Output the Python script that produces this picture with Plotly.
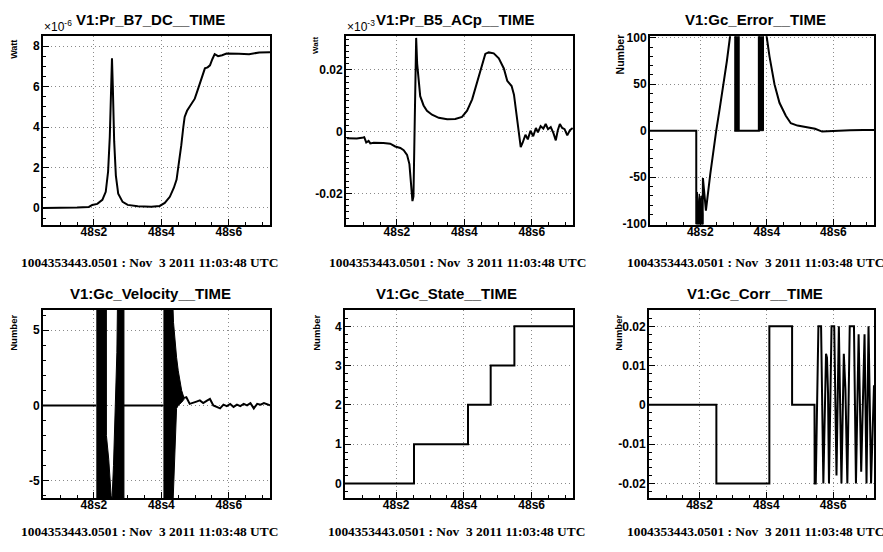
import plotly.graph_objects as go

W, H = 883, 552

# time axis: seconds of 11:03:xx, first sample at 48.0501
t_range = [48.049, 48.722]
x_tickvals = [48.2, 48.4, 48.6]
x_ticktext = ["48s2", "48s4", "48s6"]

titles = ["V1:Pr_B7_DC__TIME", "V1:Pr_B5_ACp__TIME", "V1:Gc_Error__TIME",
          "V1:Gc_Velocity__TIME", "V1:Gc_State__TIME", "V1:Gc_Corr__TIME"]
y_titles = ["Watt", "Watt", "Number", "Number", "Number", "Number"]
exponents = ["-6", "-3", None, None, None, None]
date_label = "1004353443.0501 : Nov\u00a0 3 2011 11:03:48 UTC"

# V1:Pr_B7_DC  (units of 1e-6 W)
b7_t = [48.049, 48.100, 48.150, 48.185, 48.195, 48.210, 48.225, 48.235, 48.242, 48.247,
        48.251, 48.2535, 48.256, 48.260, 48.265, 48.272, 48.285, 48.300, 48.330, 48.370,
        48.395, 48.410, 48.425, 48.437, 48.445, 48.452, 48.459, 48.465, 48.469, 48.476,
        48.484, 48.499, 48.507, 48.514, 48.522, 48.529, 48.537, 48.544, 48.551, 48.558,
        48.563, 48.568, 48.580, 48.593, 48.630, 48.660, 48.690, 48.722]
b7_w = [0.0, 0.0, 0.02, 0.05, 0.15, 0.2, 0.4, 0.8, 1.8, 3.5,
        6.0, 7.4, 6.0, 3.3, 1.6, 0.7, 0.3, 0.15, 0.08, 0.06,
        0.1, 0.25, 0.55, 1.0, 1.4, 2.2, 3.1, 4.0, 4.5, 4.8,
        5.0, 5.4, 5.8, 6.15, 6.6, 6.9, 6.95, 7.05, 7.35, 7.6,
        7.55, 7.5, 7.55, 7.63, 7.62, 7.6, 7.68, 7.7]

# V1:Pr_B5_ACp  (units of 1e-3 W)
b5_t = [48.0515, 48.081, 48.096, 48.103, 48.109, 48.116, 48.121, 48.131, 48.160, 48.180,
        48.195, 48.210, 48.220, 48.230, 48.237, 48.242, 48.246, 48.249, 48.251, 48.254,
        48.257, 48.260, 48.264, 48.269, 48.279, 48.289, 48.304, 48.324, 48.349, 48.373,
        48.393, 48.408, 48.423, 48.438, 48.453, 48.462, 48.472, 48.487, 48.502, 48.517,
        48.527, 48.534, 48.540, 48.547, 48.554, 48.560, 48.567, 48.573, 48.581, 48.588,
        48.596, 48.604, 48.612, 48.618, 48.626, 48.634, 48.641, 48.648, 48.656, 48.664,
        48.671, 48.677, 48.683, 48.690, 48.697, 48.705, 48.713, 48.721]
b5_w = [-0.0021, -0.0022, -0.0020, -0.0018, -0.0035, -0.0030, -0.0038, -0.0036, -0.0037, -0.0039,
        -0.0048, -0.0053, -0.0060, -0.0075, -0.0105, -0.0160, -0.0225, -0.0210, -0.0050, 0.0180,
        0.0304, 0.0220, 0.0160, 0.0115, 0.0085, 0.0068, 0.0055, 0.0045, 0.0040, 0.0041,
        0.0048, 0.0068, 0.0105, 0.0165, 0.0225, 0.0252, 0.0257, 0.0254, 0.0238, 0.0205,
        0.0165, 0.0155, 0.0148, 0.0120, 0.0065, 0.0015, -0.0050, -0.0035, -0.0010, -0.0025,
        0.0003, -0.0015, 0.0012, -0.0002, 0.0018, 0.0010, 0.0025, 0.0008, 0.0015, -0.0005,
        -0.0028, 0.0005, 0.0025, 0.0012, 0.0008, -0.0012, 0.0005, 0.0012]

# V1:Gc_Error
err_t = [48.049, 48.188, 48.188, 48.207, 48.208, 48.217, 48.230, 48.238, 48.248, 48.259,
         48.270, 48.280, 48.289, 48.298, 48.305, 48.305, 48.317, 48.376, 48.376, 48.390,
         48.400, 48.408, 48.423, 48.438, 48.457, 48.472, 48.492, 48.520, 48.545, 48.566,
         48.585, 48.606, 48.650, 48.690, 48.722]
err_v = [0, 0, -100, -100, -51, -86, -47, -25, 0, 25,
         50, 75, 100, 125, 125, 0, 0, 0, 125, 125,
         100, 80, 50, 30, 16, 8, 5.5, 4, 2, -1,
         -0.5, 0, 0.5, 0.6, 0.7]
# envelopes of the fast oscillation (drawn as solid black)
err_osc1_t = [48.188, 48.191, 48.194, 48.197, 48.200, 48.203, 48.206, 48.208]
err_osc1_hi = [-72, -66, -80, -68, -75, -70, -82, -90]
err_osc1_lo = [-110, -110, -110, -110, -110, -110, -110, -110]
err_osc2_t = [48.305, 48.317]
err_osc2_hi = [130, 130]
err_osc2_lo = [0, 0]
err_osc3_t = [48.376, 48.390]
err_osc3_hi = [130, 130]
err_osc3_lo = [0, 0]

# V1:Gc_Velocity
vel_t = [48.049, 48.207, None, 48.289, 48.406, None,
         48.467, 48.474, 48.484, 48.494, 48.504, 48.514, 48.524, 48.534, 48.544, 48.554,
         48.564, 48.574, 48.584, 48.594, 48.604, 48.614, 48.624, 48.634, 48.644, 48.654,
         48.664, 48.674, 48.684, 48.694, 48.704, 48.714, 48.722]
vel_v = [0, 0, None, 0, 0, None,
         0.5, 0.54, 0.1, 0.15, 0.25, 0.33, 0.15, 0.3, 0.43, 0.0,
         -0.1, -0.2, 0.05, -0.05, 0.1, -0.1, 0.05, -0.05, 0.1, 0.0,
         0.15, -0.2, 0.1, 0.05, 0.15, 0.05, 0.0]
vel_osc1_t = [48.207, 48.2369, 48.237, 48.244, 48.251, 48.2535, 48.258, 48.263, 48.268, 48.2705, 48.289]
vel_osc1_hi = [8, 8, -2.0, -3.6, -6.0, -6.3, -4.0, -0.5, 3.5, 8, 8]
vel_osc1_lo = [-8, -8, -8, -8, -8, -8, -8, -8, -8, -8, -8]
vel_osc2_t = [48.406, 48.432, 48.436, 48.440, 48.445, 48.450, 48.455, 48.460, 48.467]
vel_osc2_hi = [8, 8, 5.5, 4.2, 3.2, 2.3, 1.6, 1.0, 0.5]
vel_osc2_lo = [-8, -8, -7, -3.5, -0.2, 0.0, 0.1, 0.2, 0.4]

# V1:Gc_State
state_t = [48.049, 48.2526, 48.412, 48.479, 48.549, 48.722]
state_v = [0, 1, 2, 3, 4, 4]

# V1:Gc_Corr
corr_t = [48.049, 48.2505, 48.2505, 48.409, 48.409, 48.477, 48.477, 48.544, 48.5445, 48.5478,
          48.5557, 48.5637, 48.5705, 48.5785, 48.5814, 48.5845, 48.5873, 48.595, 48.603, 48.6098,
          48.6169, 48.6246, 48.6317, 48.6365, 48.6423, 48.6494, 48.6621, 48.668, 48.676, 48.6837,
          48.6937, 48.6996, 48.7056, 48.7132, 48.722]
corr_v = [0, 0, -0.02, -0.02, 0.02, 0.02, 0, 0, -0.02, -0.02,
          0.02, 0.02, -0.02, 0.013, 0.012, 0.003, -0.02, 0.02, 0.02, -0.018,
          0.02, -0.02, 0.013, 0.004, -0.02, 0.02, 0.02, -0.02, 0.018, -0.017,
          0.018, -0.02, 0.02, -0.02, 0.005]

# y axes: range, major ticks, labels, minor step
y_ranges = [[-0.82, 8.48], [-0.0301, 0.0309], [-101, 101.5], [-6.15, 6.35], [-0.37, 4.42], [-0.0237, 0.0242]]
y_tickvals = [[0, 2, 4, 6, 8], [-0.02, 0, 0.02], [-100, -50, 0, 50, 100], [-5, 0, 5],
              [0, 1, 2, 3, 4], [-0.02, -0.01, 0, 0.01, 0.02]]
y_ticktext = [["0", "2", "4", "6", "8"], ["-0.02", "0", "0.02"], ["-100", "-50", "0", "50", "100"],
              ["-5", "0", "5"], ["0", "1", "2", "3", "4"], ["-0.02", "-0.01", "0", "0.01", "0.02"]]
y_minor = [0.5, 0.002, 10, 1, 0.2, 0.002]

# frame boxes in pixels: left, right, top, bottom
frames = [(43, 270, 32, 224), (346, 573, 32, 224), (650, 874, 32, 224),
          (43, 270, 311, 503), (345, 573, 311, 503), (649, 874, 311, 503)]
title_pos = [(150.5, 15), (455.5, 15), (755.5, 15), (150.5, 294.5), (447, 294.5), (755, 294.5)]
date_pos = [(149.5, 263), (457.5, 263), (755, 263), (149, 537), (456.7, 537), (755, 537)]
ytitle_pos = [(14, 33, 9), (316, 31, 8), (620, 28, 10.5), (14, 314, 9.5), (317, 314, 9.5), (619, 314, 9.5)]


def line(t, v, shape="linear"):
    return go.Scatter(x=t, y=v, mode="lines", line=dict(color="black", width=2, shape=shape),
                      hoverinfo="skip", showlegend=False)


def band(t, lo, hi):
    return go.Scatter(x=t + t[::-1], y=hi + lo[::-1], mode="lines", fill="toself",
                      fillcolor="black", line=dict(color="black", width=1),
                      hoverinfo="skip", showlegend=False)


traces = [
    [line(b7_t, b7_w)],
    [line(b5_t, b5_w)],
    [band(err_osc1_t, err_osc1_lo, err_osc1_hi), band(err_osc2_t, err_osc2_lo, err_osc2_hi),
     band(err_osc3_t, err_osc3_lo, err_osc3_hi), line(err_t, err_v)],
    [band(vel_osc1_t, vel_osc1_lo, vel_osc1_hi), band(vel_osc2_t, vel_osc2_lo, vel_osc2_hi),
     line(vel_t, vel_v)],
    [line(state_t, state_v, "hv")],
    [line(corr_t, corr_v)],
]

fig = go.Figure()
tick_font = dict(family="Liberation Sans", size=12, color="black", weight="bold")
grid = dict(showgrid=True, gridcolor="#8a8a8a", griddash="1px,3px", gridwidth=1)
annotations = []

for i in range(6):
    n = "" if i == 0 else str(i + 1)
    for tr in traces[i]:
        tr.update(xaxis="x" + n, yaxis="y" + n)
        fig.add_trace(tr)
    left, right, top, bottom = frames[i]
    fig.layout["xaxis" + n] = dict(
        domain=[left / W, right / W], anchor="y" + n, range=t_range,
        tickmode="array", tickvals=x_tickvals, ticktext=x_ticktext,
        ticks="inside", ticklen=6, tickwidth=1, tickcolor="black", ticklabelstandoff=-5,
        minor=dict(tickmode="linear", tick0=48.0, dtick=0.05, ticks="inside", ticklen=3, tickcolor="black"),
        showline=True, linecolor="black", linewidth=2, mirror=True,
        zeroline=False, tickfont=tick_font, fixedrange=True, **grid)
    fig.layout["yaxis" + n] = dict(
        domain=[1 - bottom / H, 1 - top / H], anchor="x" + n, range=y_ranges[i],
        tickmode="array", tickvals=y_tickvals[i], ticktext=y_ticktext[i],
        ticks="inside", ticklen=6, tickwidth=1, tickcolor="black", ticklabelstandoff=-1,
        minor=dict(tickmode="linear", tick0=0, dtick=y_minor[i], ticks="inside", ticklen=3, tickcolor="black"),
        showline=True, linecolor="black", linewidth=2, mirror=True,
        zeroline=False, tickfont=tick_font, fixedrange=True, **grid)

    tx, ty = title_pos[i]
    annotations.append(dict(text=titles[i], x=tx / W, y=1 - ty / H, xref="paper", yref="paper",
                            xanchor="center", yanchor="middle", showarrow=False,
                            font=dict(family="Liberation Sans", size=15, color="black", weight="bold")))
    dx, dy = date_pos[i]
    annotations.append(dict(text=date_label, x=dx / W, y=1 - dy / H, xref="paper", yref="paper",
                            xanchor="center", yanchor="middle", showarrow=False,
                            font=dict(family="Liberation Serif", size=13.4, color="black", weight="bold")))
    yx, yy, ys = ytitle_pos[i]
    annotations.append(dict(text=y_titles[i], x=yx / W, y=1 - yy / H, xref="paper", yref="paper",
                            xanchor="center", yanchor="top", textangle=-90, showarrow=False,
                            font=dict(family="Liberation Sans", size=ys, color="black", weight="bold")))
    if exponents[i]:
        annotations.append(dict(text="\u00d710<sup>" + exponents[i] + "</sup>", x=left / W, y=1 - (top - 1) / H,
                                xref="paper", yref="paper", xanchor="left", yanchor="bottom",
                                showarrow=False, borderpad=0,
                                font=dict(family="Liberation Sans", size=12, color="black")))

fig.update_layout(width=W, height=H, margin=dict(l=0, r=0, t=0, b=0),
                  paper_bgcolor="white", plot_bgcolor="white",
                  showlegend=False, annotations=annotations)

# drop the browser's default 8px body margin so the figure sits at the page origin
fig.write_html("out.html", config={"displayModeBar": False},
               post_script="document.body.style.margin='0';")
